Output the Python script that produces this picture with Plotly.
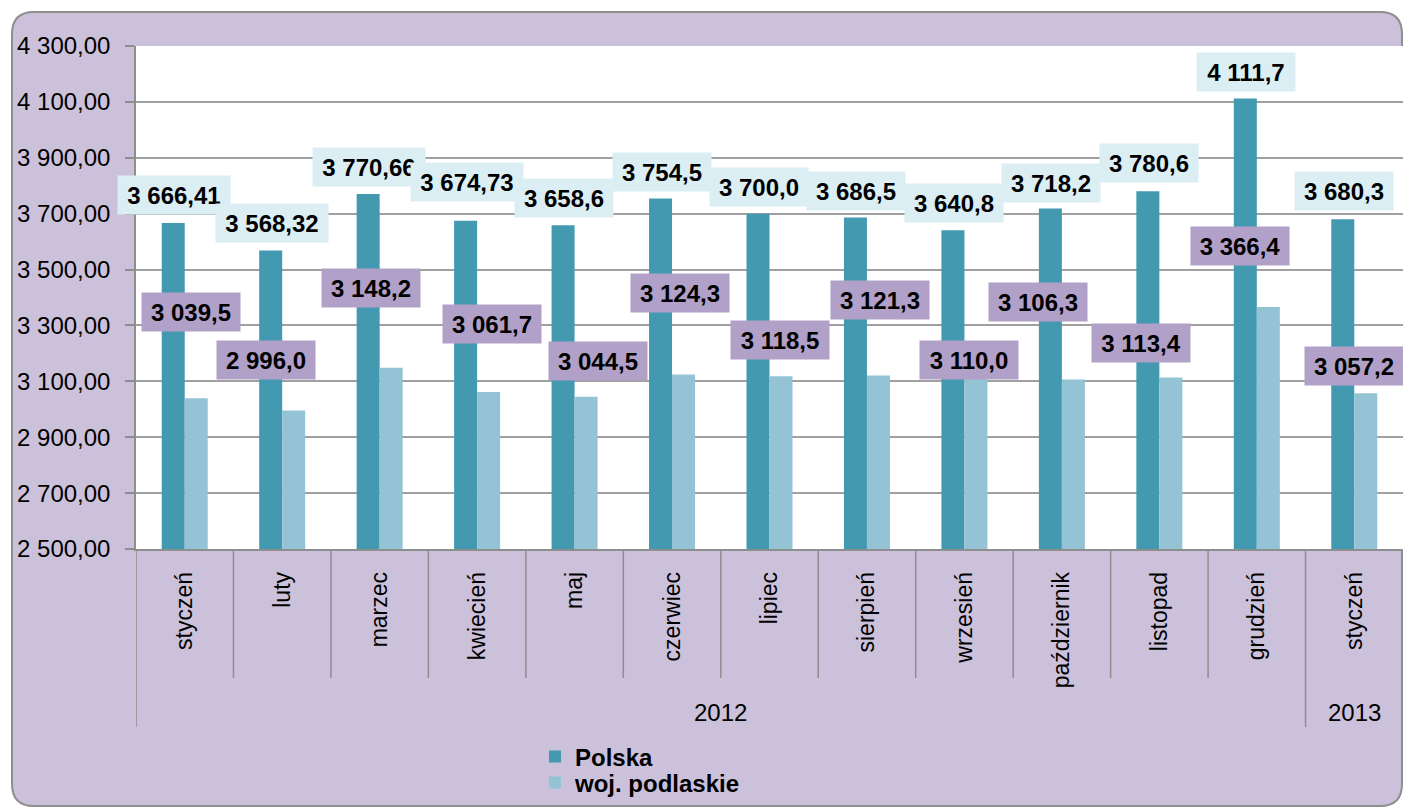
import plotly.graph_objects as go

# ---------------- data ----------------
months = ["styczeń", "luty", "marzec", "kwiecień", "maj", "czerwiec", "lipiec",
          "sierpień", "wrzesień", "październik", "listopad", "grudzień", "styczeń"]
years = ["2012"] * 12 + ["2013"]
polska = [3666.41, 3568.32, 3770.66, 3674.73, 3658.6, 3754.5, 3700.0,
          3686.5, 3640.8, 3718.2, 3780.6, 4111.7, 3680.3]
podlaskie = [3039.5, 2996.0, 3148.2, 3061.7, 3044.5, 3124.3, 3118.5,
             3121.3, 3110.0, 3106.3, 3113.4, 3366.4, 3057.2]
polska_text = ["3 666,41", "3 568,32", "3 770,66", "3 674,73", "3 658,6", "3 754,5", "3 700,0",
               "3 686,5", "3 640,8", "3 718,2", "3 780,6", "4 111,7", "3 680,3"]
podlaskie_text = ["3 039,5", "2 996,0", "3 148,2", "3 061,7", "3 044,5", "3 124,3", "3 118,5",
                  "3 121,3", "3 110,0", "3 106,3", "3 113,4", "3 366,4", "3 057,2"]
series_names = ["Polska", "woj. podlaskie"]

# ---------------- layout / style ----------------
W, H = 1403, 807
L, R, T, B = 136, 0, 46, 258
PW, PH = W - L - R, H - T - B
Y_MIN, Y_MAX, Y_STEP = 2500, 4300, 200
BARGAP = 0.528

C_POL = "#4299B0"
C_POD = "#93C3D5"
C_POL_LBL = "#DBEEF4"
C_POD_LBL = "#B1A0C7"
C_FRAME = "#CCC1DA"
C_GRID = "#A0A0A0"
C_BORDER = "#8E8E8E"
FONT = "Liberation Sans, Arial, sans-serif"

# manual label placement (pixel offsets, as in the original chart)
pol_dy = [28, 27, 27, 39, 27, 26, 27, 26, 27, 26, 28, 27, 28]
pod_dx = [6, -16, -9, 15, 23, 8, 10, 13, 5, -24, -18, -17, 0]
pod_dy = [86, 50, 80, 68, 36, 82, 36, 75, 19, 78, 35, 61, 27]


def px(x):
    return (x - L) / PW


def py(y):
    return (H - B - y) / PH


x_idx = list(range(len(months)))

fig = go.Figure()
fig.add_trace(go.Bar(x=x_idx, y=polska, name=series_names[0], marker_color=C_POL,
                     marker_line_width=0, legend="legend", showlegend=True))
fig.add_trace(go.Bar(x=x_idx, y=podlaskie, name=series_names[1], marker_color=C_POD,
                     marker_line_width=0, legend="legend2", showlegend=True))

shapes = []
# outer rounded frame
fl, ft, fr, fb, rad = 12, 12, 1402, 806, 22
path = (f"M {px(fl)},{py(ft + rad)} Q {px(fl)},{py(ft)} {px(fl + rad)},{py(ft)} "
        f"L {px(fr - rad)},{py(ft)} Q {px(fr)},{py(ft)} {px(fr)},{py(ft + rad)} "
        f"L {px(fr)},{py(fb - rad)} Q {px(fr)},{py(fb)} {px(fr - rad)},{py(fb)} "
        f"L {px(fl + rad)},{py(fb)} Q {px(fl)},{py(fb)} {px(fl)},{py(fb - rad)} Z")
shapes.append(dict(type="path", path=path, xref="paper", yref="paper",
                   fillcolor=C_FRAME, line=dict(color=C_BORDER, width=2), layer="below"))
# white plot area
shapes.append(dict(type="rect", xref="paper", yref="paper", x0=0, x1=1, y0=0, y1=1,
                   fillcolor="white", line_width=0, layer="below"))

# category dividers below the axis
long_b = {0, len(months)}
for k in range(1, len(years)):
    if years[k] != years[k - 1]:
        long_b.add(k)
for k in range(len(months) + 1):
    yb = py(727) if k in long_b else py(678)
    shapes.append(dict(type="line", xref="x", yref="paper", x0=k - 0.5, x1=k - 0.5,
                       y0=0, y1=yb, line=dict(color=C_BORDER, width=1.5)))

annotations = []
half = (1 - BARGAP) / 4
for i, (v, t) in enumerate(zip(polska, polska_text)):
    annotations.append(dict(x=i - half, y=v, xref="x", yref="y", text=t, showarrow=False,
                            xshift=1, yshift=pol_dy[i], yanchor="middle", xanchor="center",
                            bgcolor=C_POL_LBL, width=14 * len(t) - 2, height=36, borderpad=1,
                            font=dict(family=FONT, size=24, color="black", weight="bold")))
for i, (v, t) in enumerate(zip(podlaskie, podlaskie_text)):
    annotations.append(dict(x=i, y=v, xref="x", yref="y", text=t, showarrow=False,
                            xshift=pod_dx[i], yshift=pod_dy[i], yanchor="middle", xanchor="center",
                            bgcolor=C_POD_LBL, width=14 * len(t) - 2, height=36, borderpad=1,
                            font=dict(family=FONT, size=24, color="black", weight="bold")))

# year group labels
groups = []
for i, yv in enumerate(years):
    if groups and groups[-1][0] == yv:
        groups[-1][2] = i
    else:
        groups.append([yv, i, i])
for yv, a, b in groups:
    annotations.append(dict(x=(a + b) / 2, y=py(712), xref="x", yref="paper", text=yv,
                            showarrow=False, yanchor="middle",
                            font=dict(family=FONT, size=24, color="black")))

legend_style = dict(xanchor="left", yanchor="middle", bgcolor="rgba(0,0,0,0)",
                    visible=True, font=dict(family=FONT, size=24, weight="bold", color="black"))

fig.update_layout(
    width=W, height=H, margin=dict(l=L, r=R, t=T, b=B, pad=0),
    paper_bgcolor="white", plot_bgcolor="rgba(0,0,0,0)",
    barmode="group", bargap=BARGAP, bargroupgap=0,
    separators=", ", showlegend=True,
    font=dict(family=FONT, color="black"),
    shapes=shapes, annotations=annotations,
    legend=dict(x=px(535), y=py(757), **legend_style),
    legend2=dict(x=px(535), y=py(783), **legend_style),
    xaxis=dict(range=[-0.5, len(months) - 0.5], tickvals=x_idx, ticktext=months,
               tickangle=-90, ticks="", showgrid=False, zeroline=False,
               showline=True, linecolor=C_BORDER, linewidth=1.5,
               tickfont=dict(family=FONT, size=23, color="black"),
               ticklabelstandoff=12, automargin=False, fixedrange=True),
    yaxis=dict(range=[Y_MIN, Y_MAX], dtick=Y_STEP, tick0=Y_MIN, tickformat=",.2f",
               showgrid=True, gridcolor=C_GRID, gridwidth=1.5, zeroline=False,
               showline=True, linecolor=C_BORDER, linewidth=1.5,
               ticks="outside", ticklen=9, tickcolor=C_BORDER, tickwidth=1.5,
               tickfont=dict(family=FONT, size=24, color="black"),
               ticklabelstandoff=10, automargin=False, fixedrange=True),
)

fig.write_html("out.html", config={"displayModeBar": False},
               post_script="document.body.style.margin='0';document.body.style.overflow='hidden';")
